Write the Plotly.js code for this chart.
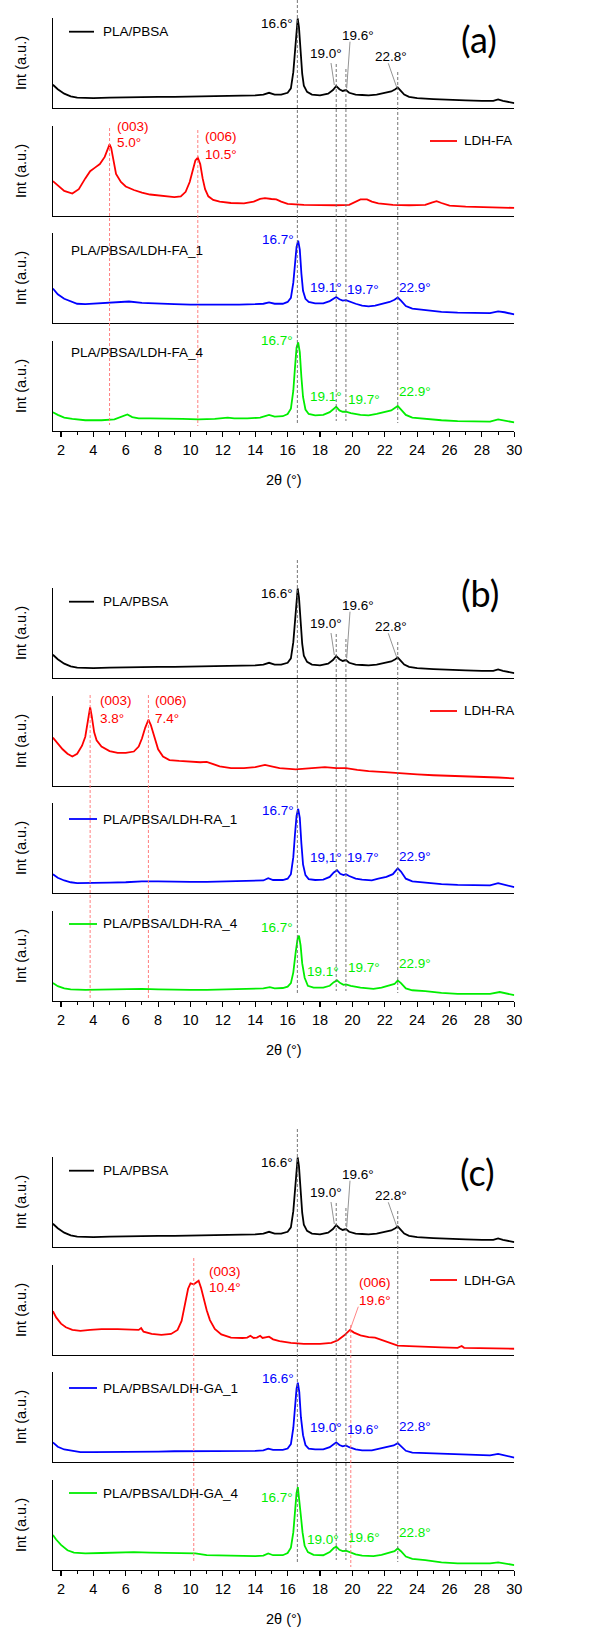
<!DOCTYPE html>
<html><head><meta charset="utf-8">
<script src="https://cdn.plot.ly/plotly-3.0.1.min.js"></script>
<style>html,body{margin:0;padding:0;background:#fff}</style>
</head><body><div id="chart" style="width:611px;height:1630px"></div>
<script>
// ===== DATA (2θ in degrees, intensity normalised to each sub-plot height) =====
const plaPbsa=[[1.5,0.26],[1.8,0.21],[2.2,0.16],[2.6,0.13],[3.0,0.115],[3.5,0.11],[4,0.11],[5,0.115],[6,0.12],[7,0.12],[8,0.125],[9,0.125],[10,0.128],[11,0.13],[12,0.13],[13,0.135],[14,0.14],[14.5,0.15],[14.85,0.17],[15.2,0.15],[15.6,0.15],[16.0,0.17],[16.2,0.22],[16.35,0.4],[16.45,0.65],[16.55,0.92],[16.62,1.0],[16.7,0.9],[16.8,0.6],[16.9,0.38],[17.0,0.25],[17.2,0.18],[17.5,0.15],[18.0,0.14],[18.5,0.16],[18.8,0.2],[19.0,0.245],[19.2,0.21],[19.4,0.19],[19.6,0.2],[19.8,0.17],[20.2,0.15],[20.6,0.145],[21.0,0.14],[21.5,0.15],[22.0,0.17],[22.4,0.185],[22.65,0.21],[22.8,0.23],[22.95,0.2],[23.2,0.15],[23.5,0.125],[24,0.11],[25,0.1],[26,0.09],[27,0.085],[28,0.08],[28.7,0.08],[29.0,0.095],[29.3,0.08],[30,0.055]];
const ldhFA=[[1.5,0.39],[1.8,0.34],[2.2,0.28],[2.7,0.25],[3.1,0.3],[3.5,0.42],[3.8,0.5],[4.1,0.54],[4.4,0.58],[4.7,0.66],[4.9,0.76],[5.0,0.8],[5.1,0.76],[5.25,0.6],[5.4,0.47],[5.7,0.38],[6.0,0.33],[6.5,0.29],[7.0,0.26],[7.5,0.24],[8.0,0.23],[8.5,0.22],[9.0,0.21],[9.4,0.22],[9.7,0.27],[9.95,0.38],[10.15,0.52],[10.3,0.62],[10.45,0.65],[10.6,0.58],[10.75,0.42],[10.9,0.3],[11.1,0.22],[11.4,0.18],[11.8,0.16],[12.5,0.145],[13.3,0.14],[13.9,0.16],[14.3,0.19],[14.6,0.2],[15.0,0.19],[15.3,0.185],[15.6,0.16],[16.0,0.135],[17,0.125],[18,0.12],[19,0.12],[19.8,0.125],[20.2,0.16],[20.5,0.185],[20.9,0.185],[21.2,0.16],[21.6,0.14],[22.5,0.125],[23.5,0.12],[24.5,0.125],[24.9,0.15],[25.2,0.165],[25.5,0.145],[26,0.115],[27,0.105],[28,0.1],[29,0.095],[30,0.09]];
const ldhFA1=[[1.5,0.385],[1.8,0.32],[2.2,0.27],[2.6,0.24],[3.0,0.215],[3.5,0.21],[4.5,0.22],[5.5,0.235],[6.2,0.24],[7,0.225],[8,0.215],[9,0.21],[10,0.205],[11,0.205],[12,0.2],[13,0.205],[14,0.21],[14.5,0.215],[14.85,0.23],[15.2,0.215],[15.7,0.215],[16.0,0.235],[16.2,0.28],[16.35,0.45],[16.45,0.65],[16.55,0.85],[16.65,0.92],[16.75,0.82],[16.85,0.55],[16.95,0.36],[17.1,0.27],[17.3,0.235],[17.7,0.22],[18.2,0.22],[18.6,0.245],[18.85,0.275],[19.0,0.29],[19.2,0.265],[19.4,0.25],[19.6,0.255],[19.8,0.24],[20.2,0.215],[20.6,0.195],[21.0,0.185],[21.4,0.195],[21.9,0.22],[22.3,0.235],[22.6,0.26],[22.8,0.285],[23.0,0.25],[23.3,0.19],[23.7,0.16],[24.5,0.145],[25.5,0.125],[26.5,0.115],[27.5,0.11],[28.5,0.11],[29.0,0.13],[29.4,0.12],[30,0.095]];
const ldhFA4=[[1.5,0.21],[1.8,0.18],[2.2,0.15],[2.7,0.135],[3.5,0.12],[4.5,0.12],[5.3,0.13],[5.8,0.16],[6.1,0.185],[6.4,0.155],[6.8,0.14],[7.5,0.14],[8.5,0.14],[9.5,0.135],[10.5,0.13],[11.5,0.135],[12.3,0.15],[12.7,0.14],[13.5,0.14],[14.3,0.15],[14.85,0.18],[15.2,0.16],[15.7,0.165],[16.0,0.19],[16.2,0.25],[16.35,0.45],[16.45,0.7],[16.55,0.93],[16.65,0.99],[16.75,0.88],[16.85,0.6],[16.95,0.38],[17.1,0.24],[17.3,0.19],[17.7,0.175],[18.2,0.18],[18.6,0.21],[18.85,0.25],[19.0,0.27],[19.2,0.23],[19.4,0.215],[19.6,0.215],[19.9,0.2],[20.5,0.18],[21.0,0.175],[21.5,0.19],[22.0,0.21],[22.4,0.23],[22.8,0.28],[23.0,0.24],[23.3,0.18],[23.7,0.15],[24.5,0.135],[25.5,0.12],[26.5,0.11],[27.5,0.11],[28.5,0.105],[29.0,0.13],[29.4,0.115],[30,0.095]];
const ldhRA=[[1.5,0.54],[1.8,0.47],[2.1,0.41],[2.4,0.36],[2.7,0.33],[3.0,0.36],[3.3,0.45],[3.5,0.55],[3.65,0.72],[3.8,0.88],[3.9,0.78],[4.05,0.6],[4.2,0.51],[4.5,0.44],[5.0,0.39],[5.5,0.37],[6.0,0.37],[6.5,0.385],[6.8,0.44],[7.0,0.53],[7.2,0.65],[7.4,0.74],[7.55,0.68],[7.75,0.55],[8.0,0.41],[8.3,0.33],[8.7,0.29],[9.3,0.28],[10.0,0.27],[10.6,0.265],[11.0,0.27],[11.3,0.25],[11.8,0.22],[12.5,0.2],[13.3,0.2],[14.0,0.21],[14.6,0.235],[15.0,0.22],[15.5,0.2],[16.5,0.185],[17.5,0.195],[18.3,0.21],[19.0,0.2],[19.6,0.2],[20.3,0.18],[21.0,0.165],[22.0,0.155],[23,0.14],[24,0.13],[25,0.12],[26,0.115],[27,0.105],[28,0.1],[29,0.095],[30,0.085]];
const ldhRA1=[[1.5,0.21],[1.8,0.17],[2.2,0.14],[2.6,0.12],[3.0,0.11],[4,0.11],[5,0.115],[6,0.12],[7,0.13],[8,0.13],[9,0.125],[10,0.125],[11,0.125],[12,0.13],[13,0.13],[14,0.135],[14.5,0.14],[14.8,0.165],[15.1,0.145],[15.7,0.145],[16.0,0.16],[16.2,0.21],[16.35,0.4],[16.45,0.65],[16.55,0.86],[16.65,0.94],[16.75,0.84],[16.85,0.55],[16.95,0.32],[17.1,0.2],[17.3,0.155],[17.7,0.145],[18.2,0.15],[18.6,0.18],[18.85,0.23],[19.05,0.255],[19.25,0.215],[19.45,0.2],[19.6,0.21],[19.8,0.19],[20.2,0.16],[20.6,0.15],[21.2,0.14],[21.6,0.16],[22.1,0.18],[22.5,0.21],[22.8,0.275],[23.0,0.24],[23.3,0.16],[23.7,0.13],[24.5,0.115],[25.5,0.1],[26.5,0.09],[27.5,0.085],[28.5,0.085],[29.0,0.11],[29.4,0.095],[30,0.065]];
const ldhRA4=[[1.5,0.2],[1.8,0.165],[2.2,0.14],[2.6,0.13],[3.5,0.125],[5,0.13],[6,0.135],[7,0.135],[8,0.13],[9,0.125],[10,0.125],[11,0.125],[12,0.13],[13,0.13],[14,0.135],[14.5,0.14],[14.9,0.155],[15.2,0.14],[15.7,0.145],[16.0,0.16],[16.2,0.2],[16.35,0.32],[16.5,0.55],[16.62,0.7],[16.7,0.73],[16.8,0.62],[16.9,0.42],[17.05,0.26],[17.25,0.17],[17.6,0.15],[18.2,0.15],[18.6,0.17],[18.85,0.21],[19.05,0.23],[19.25,0.2],[19.45,0.18],[19.6,0.185],[19.9,0.17],[20.5,0.15],[21.3,0.135],[21.8,0.15],[22.3,0.17],[22.6,0.19],[22.8,0.23],[23.0,0.2],[23.3,0.14],[23.7,0.12],[24.5,0.11],[25.5,0.09],[26.5,0.08],[27.5,0.08],[28.5,0.08],[29.1,0.1],[29.5,0.085],[30,0.065]];
const ldhGA=[[1.5,0.49],[1.7,0.42],[2.0,0.35],[2.3,0.31],[2.7,0.28],[3.2,0.27],[3.8,0.28],[4.5,0.29],[5.5,0.29],[6.3,0.285],[6.8,0.28],[6.95,0.3],[7.1,0.26],[7.6,0.235],[8.2,0.225],[8.8,0.235],[9.2,0.28],[9.45,0.38],[9.65,0.56],[9.85,0.74],[10.0,0.8],[10.2,0.79],[10.35,0.81],[10.5,0.83],[10.65,0.75],[10.8,0.63],[11.0,0.5],[11.2,0.39],[11.5,0.29],[11.9,0.23],[12.5,0.195],[13.2,0.19],[13.5,0.195],[13.7,0.215],[13.9,0.19],[14.1,0.195],[14.3,0.215],[14.45,0.19],[14.7,0.2],[14.85,0.205],[15.1,0.175],[15.5,0.155],[16.2,0.135],[17,0.125],[18,0.125],[18.7,0.135],[19.1,0.165],[19.5,0.22],[19.85,0.28],[20.1,0.25],[20.5,0.22],[21.0,0.2],[21.4,0.195],[21.8,0.17],[22.3,0.135],[22.8,0.105],[23.5,0.1],[24.5,0.09],[25.5,0.085],[26.5,0.08],[26.75,0.1],[26.9,0.08],[28,0.075],[29,0.075],[30,0.07]];
const ldhGA1=[[1.5,0.22],[1.8,0.17],[2.2,0.14],[2.6,0.125],[3.2,0.11],[4,0.11],[5,0.11],[6,0.115],[7,0.115],[8,0.115],[9,0.12],[10,0.12],[11,0.12],[12,0.12],[13,0.125],[14,0.125],[14.5,0.13],[14.8,0.15],[15.1,0.135],[15.7,0.135],[16.0,0.15],[16.2,0.2],[16.35,0.38],[16.45,0.6],[16.55,0.82],[16.63,0.885],[16.72,0.78],[16.82,0.5],[16.95,0.3],[17.1,0.19],[17.3,0.15],[17.7,0.14],[18.2,0.14],[18.6,0.165],[18.85,0.2],[19.0,0.22],[19.2,0.19],[19.4,0.175],[19.6,0.185],[19.8,0.165],[20.2,0.14],[20.6,0.13],[21.2,0.13],[21.7,0.15],[22.2,0.17],[22.55,0.185],[22.8,0.21],[23.0,0.18],[23.3,0.125],[23.7,0.105],[24.5,0.1],[25.5,0.09],[26.5,0.08],[27.5,0.075],[28.5,0.075],[29.0,0.09],[29.4,0.075],[30,0.05]];
const ldhGA4=[[1.5,0.39],[1.7,0.34],[2.0,0.28],[2.4,0.22],[2.8,0.195],[3.5,0.185],[4.5,0.19],[5.5,0.195],[6.5,0.2],[7.5,0.195],[8.5,0.19],[9.5,0.19],[10.3,0.185],[11,0.165],[12,0.16],[13,0.155],[14,0.155],[14.5,0.16],[14.8,0.185],[15.1,0.165],[15.7,0.165],[16.0,0.19],[16.2,0.25],[16.35,0.42],[16.45,0.65],[16.55,0.86],[16.63,0.925],[16.72,0.8],[16.82,0.6],[16.92,0.42],[17.05,0.27],[17.25,0.2],[17.6,0.17],[18.2,0.165],[18.6,0.2],[18.85,0.245],[19.0,0.26],[19.2,0.225],[19.4,0.21],[19.6,0.215],[19.8,0.2],[20.2,0.175],[20.6,0.16],[21.3,0.155],[21.8,0.17],[22.3,0.19],[22.6,0.21],[22.8,0.24],[23.0,0.21],[23.3,0.15],[23.7,0.125],[24.5,0.11],[25.5,0.085],[26.5,0.075],[27.5,0.075],[28.5,0.075],[29.0,0.085],[29.4,0.075],[30,0.055]];

const panelLabels=['(a)','(b)','(c)'];
const seriesNames=[
  ['PLA/PBSA','LDH-FA','PLA/PBSA/LDH-FA_1','PLA/PBSA/LDH-FA_4'],
  ['PLA/PBSA','LDH-RA','PLA/PBSA/LDH-RA_1','PLA/PBSA/LDH-RA_4'],
  ['PLA/PBSA','LDH-GA','PLA/PBSA/LDH-GA_1','PLA/PBSA/LDH-GA_4']];
const seriesData=[[plaPbsa,ldhFA,ldhFA1,ldhFA4],[plaPbsa,ldhRA,ldhRA1,ldhRA4],[plaPbsa,ldhGA,ldhGA1,ldhGA4]];
const polymerPeakLabels=['16.6°','19.0°','19.6°','22.8°'];
const compositePeakLabels=[
  [['16.7°','19.1°','19.7°','22.9°'],['16.7°','19.1°','19.7°','22.9°']],
  [['16.7°','19,1°','19.7°','22.9°'],['16.7°','19.1°','19.7°','22.9°']],
  [['16.6°','19.0°','19.6°','22.8°'],['16.7°','19.0°','19.6°','22.8°']]];
const ldhPeakLabels=[[['(003)','5.0°'],['(006)','10.5°']],[['(003)','3.8°'],['(006)','7.4°']],[['(003)','10.4°'],['(006)','19.6°']]];
const polymerLines=[16.6,19.0,19.6,22.8];
const ldhLines=[[5.0,10.45],[3.8,7.4],[10.2,19.9]];
const xTitle='2θ (°)', yTitle='Int (a.u.)';

// ===== LAYOUT / STYLE (pixel positions) =====
const W=611,H=1630,XL=52.9,XR=514.3;
const OFF=[0,570,1139];
const TOPS=[18,126,233,341],SH=90;
const COLORS=['#000000','#ff0000','#0000ff','#00ee00'];
const FONT='Liberation Sans, Arial, sans-serif';
const PX=x=>x/W, PY=y=>1-y/H;

const blackPos=[[295,23,'right'],[325.8,53,'center'],[357.5,35.5,'center'],[391,56.5,'center']];
const compPos=[
 [[[296,239,'right'],[326,288],[363,290],[415,288]],[[295,340,'right'],[326,396],[363.5,399],[415,392]]],
 [[[296,810,'right'],[326,857.5],[363,858],[415,857]],[[295,927.5,'right'],[322.5,971],[363.5,967],[415,963.5]]],
 [[[296,1378,'right'],[326,1427],[363,1429],[415,1426]],[[295,1497.5,'right'],[322.5,1539],[364,1537],[415,1532]]]];
const ldhPos=[[[115,127,143],[203,137,154]],[[98,701,718],[153,701,718]],[[207,1271,1287],[357,1282,1300]]];
const panelLabelPos=[[479,39],[480,593],[477.5,1172]];
const polyLineSpan=[[-10,424],[64,421],[69,421],[72,423]];
const ldhLineSpan=[[[128,425],[130,426]],[[695,998],[695,998]],[[1258,1563],[1325,1567]]];
const leaders=[[331,63,334.3,85],[350,41.7,346.7,88.3],[388.3,63.3,396.7,87.3]];

const traces=[],annotations=[],shapes=[];
const layout={width:W,height:H,margin:{l:0,r:0,t:0,b:0},paper_bgcolor:'#fff',plot_bgcolor:'#fff',showlegend:false,font:{family:FONT,color:'#000'}};

function ann(text,x,y,xa,size,color,extra){
  annotations.push(Object.assign({text:text,x:PX(x),y:PY(y),xref:'paper',yref:'paper',xanchor:xa||'center',yanchor:'middle',showarrow:false,font:{family:FONT,size:size||13,color:color||'#000'}},extra||{}));
}
function pline(x0,y0,x1,y1,color,width,dash){
  shapes.push({type:'line',xref:'paper',yref:'paper',x0:PX(x0),x1:PX(x1),y0:PY(y0),y1:PY(y1),line:{color:color,width:width||1,dash:dash||'solid'},layer:'above'});
}

for(let p=0;p<3;p++){
  const off=OFF[p];
  for(let s=0;s<4;s++){
    const i=p*4+s+1, xa='x'+(i===1?'':i), ya='y'+(i===1?'':i);
    const data=seriesData[p][s];
    traces.push({type:'scatter',mode:'lines',x:data.map(d=>d[0]),y:data.map(d=>d[1]),xaxis:xa,yaxis:ya,name:seriesNames[p][s],line:{color:COLORS[s],width:1.8},hoverinfo:'skip'});
    const top=off+TOPS[s],bot=top+SH,last=(s===3);
    layout['xaxis'+(i===1?'':i)]={domain:[PX(XL),PX(XR)],range:[1.5,30],anchor:ya,showline:true,linecolor:'#000',linewidth:1.1,
      showgrid:false,zeroline:false,ticks:last?'outside':'',ticklen:5,tickwidth:1.1,tickcolor:'#000',tick0:2,dtick:2,
      showticklabels:last,tickfont:{family:FONT,size:14.5,color:'#000'},
      minor:last?{ticks:'outside',ticklen:3,tickwidth:1,tickcolor:'#000',dtick:1}:{}};
    layout['yaxis'+(i===1?'':i)]={domain:[PY(bot),PY(top)],range:[0,1.005],anchor:xa,showline:true,linecolor:'#000',linewidth:1.1,
      showgrid:false,zeroline:false,ticks:'',showticklabels:false};
    ann(yTitle,21,top+SH/2,'center',14.5,'#000',{textangle:-90});
  }
  ann(xTitle,284,off+480,'center',14.5);
  ann(panelLabels[p],panelLabelPos[p][0],panelLabelPos[p][1],'center',36,'#000',{font:{family:'Lato, Open Sans, sans-serif',size:36,color:'#000'}});

  // legends
  pline(69,off+31.7,94,off+31.7,COLORS[0],1.8);
  ann(seriesNames[p][0],101,off+31.7,'left',13.5);
  pline(430,off+141,457,off+141,COLORS[1],1.8);
  ann(seriesNames[p][1],461.7,off+141,'left',13.5);
  const legY=[250,354];
  for(let k=0;k<2;k++){
    if(p===0){ ann(seriesNames[p][2+k],69,off+legY[k]-(k===1?1:0),'left',13.5); }
    else { pline(69,off+legY[k]-(k===0?1:0),97,off+legY[k]-(k===0?1:0),COLORS[2+k],1.8); ann(seriesNames[p][2+k],101,off+legY[k]-(k===0?1:0),'left',13.5); }
  }

  // polymer peak labels + leaders
  for(let j=0;j<4;j++){ const b=blackPos[j]; ann(polymerPeakLabels[j],b[0],off+b[1],b[2],13.5); }
  leaders.forEach(l=>pline(l[0],off+l[1],l[2],off+l[3],'#777',0.8));

  // composite peak labels
  for(let k=0;k<2;k++){
    for(let j=0;j<4;j++){ const c=compPos[p][k][j]; ann(compositePeakLabels[p][k][j],c[0],c[1],c[2]||'center',13.5,COLORS[2+k]); }
  }
  // LDH peak labels
  for(let j=0;j<2;j++){
    const q=ldhPos[p][j];
    ann(ldhPeakLabels[p][j][0],q[0],q[1],'left',13.5,COLORS[1]);
    ann(ldhPeakLabels[p][j][1],q[0],q[2],'left',13.5,COLORS[1]);
  }
  if(p===2) pline(358.3,off+167.7,350,off+191,'#ff6666',0.8);

  // dashed reference lines
  const xr='x'+(p*4+1===1?'':p*4+1);
  polymerLines.forEach((xv,j)=>{
    shapes.push({type:'line',xref:xr,yref:'paper',x0:xv,x1:xv,y0:PY(off+polyLineSpan[j][0]),y1:PY(off+polyLineSpan[j][1]),line:{color:'#666',width:0.9,dash:'3px,2px'},layer:'above'});
  });
  ldhLines[p].forEach((xv,j)=>{
    shapes.push({type:'line',xref:xr,yref:'paper',x0:xv,x1:xv,y0:PY(ldhLineSpan[p][j][0]),y1:PY(ldhLineSpan[p][j][1]),line:{color:'#ff7070',width:0.9,dash:'3px,2px'},layer:'above'});
  });
}
layout.annotations=annotations;
layout.shapes=shapes;
Plotly.newPlot('chart',traces,layout,{displayModeBar:false,staticPlot:true});
</script></body></html>
